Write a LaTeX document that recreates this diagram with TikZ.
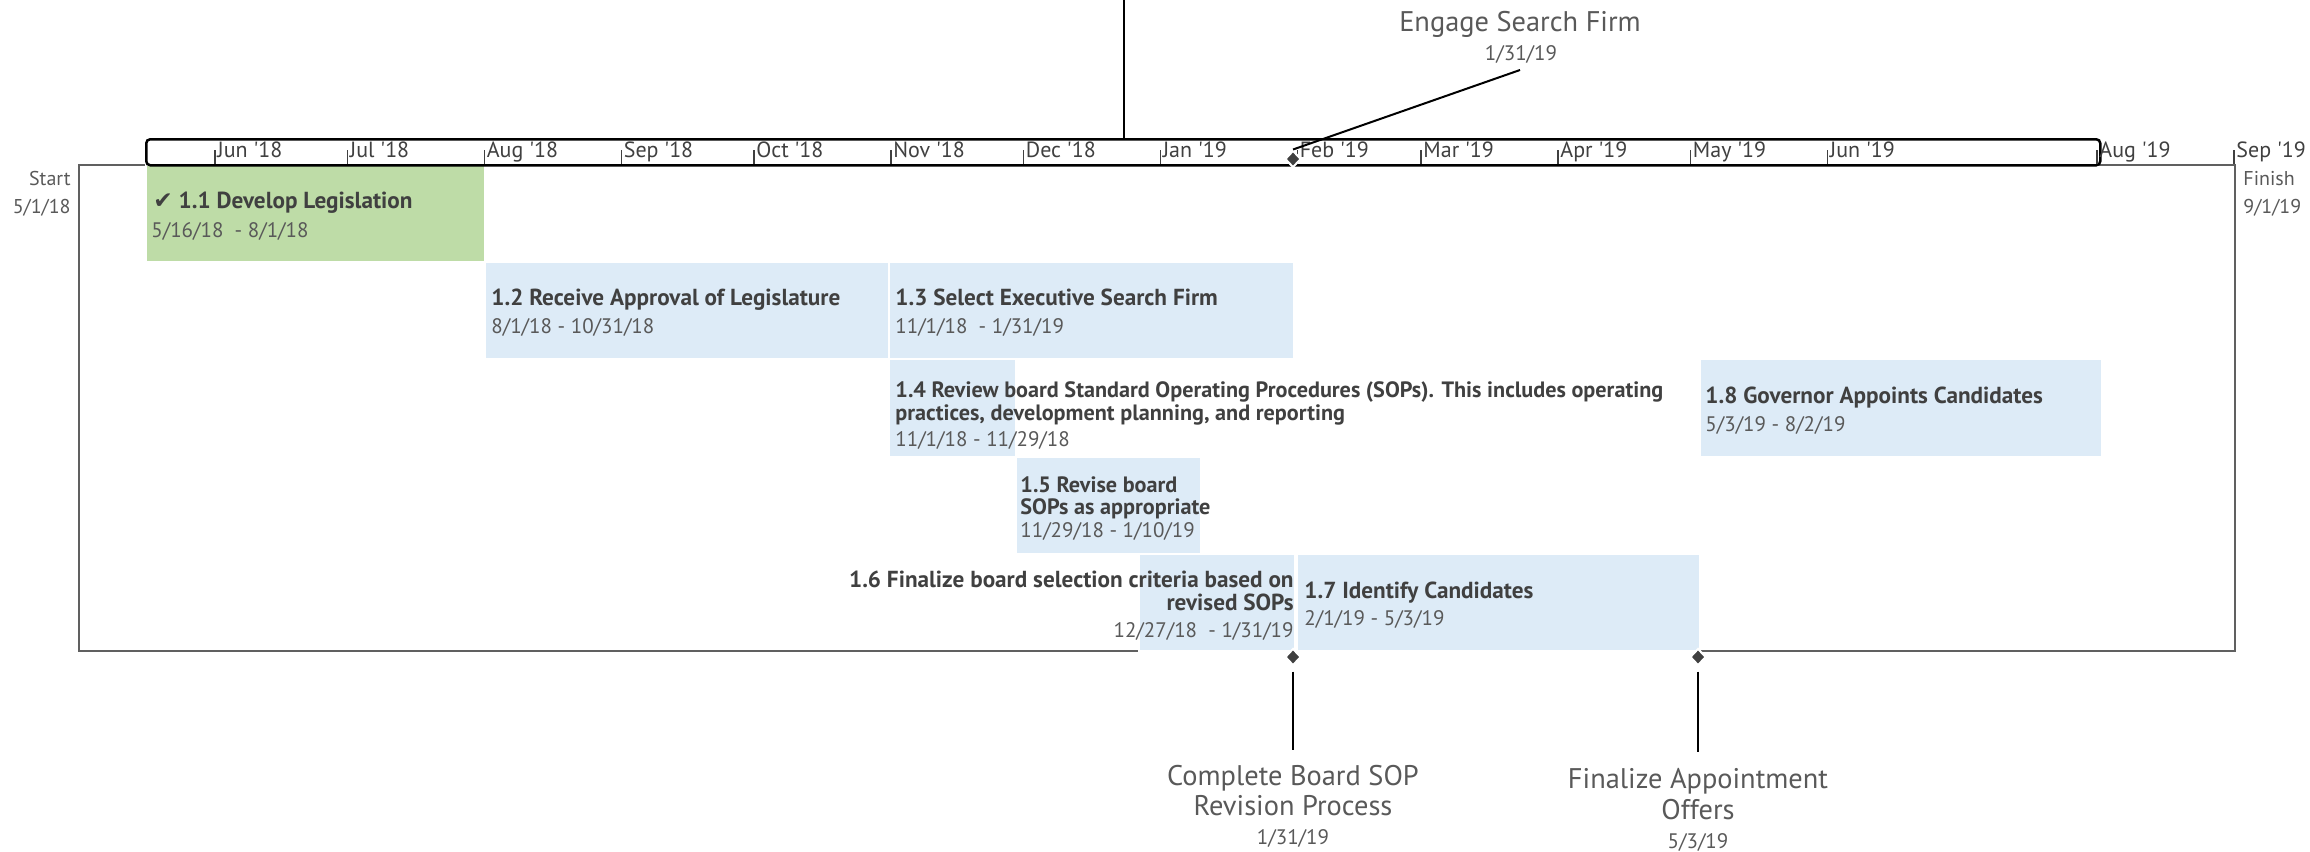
\documentclass[tikz,border=0pt]{standalone}
\usepackage{fontspec}
\setmainfont{PT Sans}
\newfontfamily\symfont{DejaVu Sans}
\usepackage{xcolor}
\usepackage{tikz}
\usetikzlibrary{positioning,shapes.geometric}
\definecolor{donegreen}{RGB}{190,220,167}
\definecolor{todoblue}{RGB}{221,235,247}
\definecolor{ink}{RGB}{64,64,64}
\definecolor{inklight}{RGB}{89,89,89}
\definecolor{framegray}{RGB}{96,96,96}
\tikzset{
  chartframe/.style={rectangle, draw=framegray, line width=1pt, anchor=north west, inner sep=0pt},
  timebar/.style={rectangle, rounded corners=2pt, draw=black, line width=1.25pt, fill=white, anchor=north west, inner sep=0pt},
  bar/.style={rectangle, draw=white, line width=1pt, anchor=north west, inner sep=0pt, minimum height=48.6pt},
  donebar/.style={bar, fill=donegreen},
  todobar/.style={bar, fill=todoblue},
  ttl/.style={anchor=base west, inner sep=0pt, text=ink, font=\bfseries\fontsize{11.6}{13}\selectfont},
  ttls/.style={ttl, font=\bfseries\fontsize{11.1}{13}\selectfont},
  dte/.style={anchor=base west, inner sep=0pt, text=inklight, font=\fontsize{10.5}{12}\selectfont},
  mon/.style={anchor=base west, inner sep=0pt, text=ink, font=\fontsize{11}{12}\selectfont},
  montick/.style={draw=ink, line width=0.6pt},
  endlbl/.style={inner sep=0pt, text=inklight, font=\fontsize{10}{12}\selectfont},
  ms/.style={diamond, fill=ink, draw=white, line width=1pt, inner sep=0pt, minimum width=8pt, minimum height=8.5pt},
  mslbl/.style={anchor=base, inner sep=0pt, text=inklight, font=\fontsize{14.2}{16}\selectfont},
  msdt/.style={anchor=base, inner sep=0pt, text=inklight, font=\fontsize{10.5}{12}\selectfont},
  lead/.style={draw=black, line width=1pt},
}

\begin{document}
\begin{tikzpicture}[x=0.5pt, y=0.5pt]
  \useasboundingbox (0,0) rectangle (2310,-851);

  % chart area
  \node[chartframe, minimum width=1078pt, minimum height=243pt] (chart) at (78,-164) {};

  % task bars
  \node[donebar, minimum width=169.5pt] (t11) at (145,-164) {};
  \node[todobar, minimum width=202pt] (t12) at (484,-261.2) {};
  \node[todobar, minimum width=202.5pt] (t13) at (888,-261.2) {};
  \node[todobar, minimum width=63.5pt] (t14) at (888,-358.4) {};
  \node[todobar, minimum width=92.5pt] (t15) at (1015,-455.6) {};
  \node[todobar, minimum width=78pt] (t16) at (1138,-552.8) {};
  \node[todobar, minimum width=201.5pt] (t17) at (1296,-552.8) {};
  \node[todobar, minimum width=201pt] (t18) at (1699,-358.4) {};

  % task texts
  \node[ttl] (t11a) at (153,-208) {{\symfont ✔} 1.1 Develop Legislation};
  \node[dte] (t11d) at (151,-237) {5/16/18 \ - 8/1/18};
  \node[ttl] (t12a) at (491,-305) {1.2 Receive Approval of Legislature};
  \node[dte] (t12d) at (491,-333) {8/1/18 - 10/31/18};
  \node[ttl] (t13a) at (895,-305) {1.3 Select Executive Search Firm};
  \node[dte] (t13d) at (895,-333) {11/1/18 \ - 1/31/19};
  \node[ttls] (t14a) at (895,-397) {1.4 Review board Standard Operating Procedures (SOPs). This includes operating};
  \node[ttls] (t14b) at (895,-420) {practices, development planning, and reporting};
  \node[dte] (t14d) at (895,-446) {11/1/18 - 11/29/18};
  \node[ttls] (t15a) at (1020,-492) {1.5 Revise board};
  \node[ttls] (t15b) at (1020,-514) {SOPs as appropriate};
  \node[dte] (t15d) at (1020,-537) {11/29/18 - 1/10/19};
  \node[ttl, anchor=base east] (t16a) at (1294,-587) {1.6 Finalize board selection criteria based on};
  \node[ttl, anchor=base east] (t16b) at (1294,-610) {revised SOPs};
  \node[dte, anchor=base east] (t16d) at (1294,-637) {12/27/18 \ - 1/31/19};
  \node[ttl] (t17a) at (1304,-598) {1.7 Identify Candidates};
  \node[dte] (t17d) at (1304,-625) {2/1/19 - 5/3/19};
  \node[ttl] (t18a) at (1705,-403) {1.8 Governor Appoints Candidates};
  \node[dte] (t18d) at (1705,-431) {5/3/19 - 8/2/19};

  % timeline
  \node[timebar, minimum width=977pt, minimum height=13pt] (tl) at (145,-138) {};
  \foreach \d/\m in {31/Jun \textquotesingle18, 61/Jul \textquotesingle18, 92/Aug \textquotesingle18,
      123/Sep \textquotesingle18, 153/Oct \textquotesingle18, 184/Nov \textquotesingle18,
      214/Dec \textquotesingle18, 245/Jan \textquotesingle19, 276/Feb \textquotesingle19,
      304/Mar \textquotesingle19, 335/Apr \textquotesingle19, 365/May \textquotesingle19,
      396/Jun \textquotesingle19, 457/Aug \textquotesingle19, 488/Sep \textquotesingle19}{
    \draw[montick] ({78+4.418*\d},-150) -- ++(0,-14);
    \node[mon] (mo\d) at ({80+4.418*\d},-157) {\m};
  }

  \node[endlbl, anchor=base east] (st) at (71,-185) {Start};
  \node[endlbl, anchor=base east] (std) at (71,-213) {5/1/18};
  \node[endlbl, anchor=base west] (fi) at (2243,-185) {Finish};
  \node[endlbl, anchor=base west] (fid) at (2243,-213) {9/1/19};

  % milestones
  \node[ms] (m1) at (1293,-159) {};
  \node[ms] (m2) at (1293,-657) {};
  \node[ms] (m3) at (1698,-657) {};
  \node[mslbl] (m1t) at (1520,-32) {Engage Search Firm};
  \node[msdt] (m1d) at (1521,-60) {1/31/19};
  \node[mslbl] (m2t) at (1293,-785) {Complete Board SOP};
  \node[mslbl] (m2u) at (1293,-815) {Revision Process};
  \node[msdt] (m2d) at (1293,-844) {1/31/19};
  \node[mslbl] (m3t) at (1698,-788) {Finalize Appointment};
  \node[mslbl] (m3u) at (1698,-819) {Offers};
  \node[msdt] (m3d) at (1698,-848) {5/3/19};
  \coordinate (m1c) at (1520,-70);
  \coordinate (m2c) at (1293,-750);
  \coordinate (m3c) at (1698,-752);
  \coordinate (up) at (1124,0);

  \path[lead]
    (m1.north) edge (m1c)
    (m2.south) edge[shorten <=2.5pt] (m2c)
    (m3.south) edge[shorten <=2.5pt] (m3c)
    (up) edge (up |- tl.north);
\end{tikzpicture}
\end{document}
